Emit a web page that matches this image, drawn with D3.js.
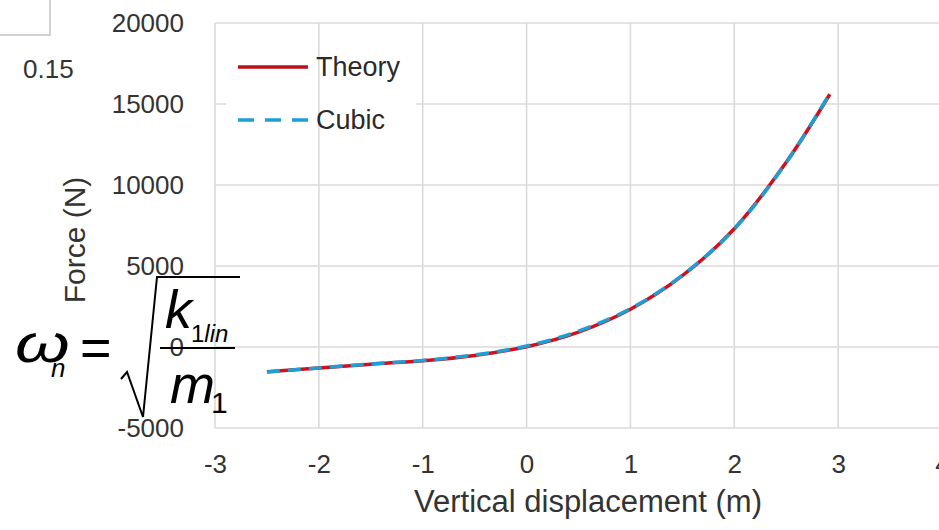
<html>
<head>
  <script src="https://d3js.org/d3.v7.min.js"></script>
  <style>
    body { margin: 0; background: #fff; }
    text { font-family: "Liberation Sans", Arial, Helvetica, sans-serif; }
  </style>
</head>
<body>
<svg id="chart" width="939" height="530"></svg>

<script>
// data
var dispM   = [-2.5, -2, -1.5, -1, -0.5, 0, 0.5, 1, 1.5, 2, 2.5, 2.92]
var theoryN = [-1530, -1300, -1060, -850, -520, 20, 920, 2330, 4400, 7300, 11400, 15600]
var cubicN  = [-1550, -1290, -1050, -830, -490, 60, 980, 2370, 4430, 7280, 11380, 15650]
var xTicks  = [-3, -2, -1, 0, 1, 2, 3, 4]
var yTicks  = [-5000, 0, 5000, 10000, 15000, 20000]
var seriesNames = ['Theory', 'Cubic']

var svg = d3.select('svg#chart')
var x = d3.scaleLinear().domain([-3, 4]).range([215, 942])
var y = d3.scaleLinear().domain([-5000, 20000]).range([428, 23])
var gridColor = '#dadada'
var textColor = '#333'
// plain hyphen for negatives, like the original
var plain = function (d) { return String(d) }

// horizontal grid
svg.append('g').selectAll('line')
  .data(yTicks).enter().append('line')
  .attr('x1', x(-3)).attr('x2', x(4))
  .attr('y1', function (d) { return y(d) })
  .attr('y2', function (d) { return y(d) })
  .attr('stroke', gridColor).attr('stroke-width', 1.6)

// legend background hides the 15000 line behind the labels
svg.append('rect')
  .attr('x', 226).attr('y', 30).attr('width', 190).attr('height', 148)
  .attr('fill', '#fff')

// vertical grid
svg.append('g').selectAll('line')
  .data(xTicks).enter().append('line')
  .attr('x1', function (d) { return x(d) })
  .attr('x2', function (d) { return x(d) })
  .attr('y1', y(20000)).attr('y2', y(-5000))
  .attr('stroke', gridColor).attr('stroke-width', 1.6)

// axes (labels only, domain/ticks hidden)
var yAxis = svg.append('g')
  .attr('transform', 'translate(' + (x(-3) - 28) + ',0)')
  .call(d3.axisLeft(y).tickValues(yTicks).tickSize(0).tickFormat(plain))
yAxis.select('.domain').remove()
yAxis.selectAll('text')
  .attr('font-size', 26).attr('fill', textColor)
  .attr('font-family', '"Liberation Sans", Arial, sans-serif')

var xAxis = svg.append('g')
  .attr('transform', 'translate(0,' + (y(-5000) + 36) + ')')
  .call(d3.axisBottom(x).tickValues(xTicks).tickSize(0).tickFormat(plain))
xAxis.select('.domain').remove()
xAxis.selectAll('text')
  .attr('dy', 0).attr('y', 0)
  .attr('dominant-baseline', 'central')
  .attr('font-size', 26).attr('fill', textColor)
  .attr('font-family', '"Liberation Sans", Arial, sans-serif')

// axis titles
svg.append('text')
  .attr('x', 588).attr('y', 512)
  .attr('text-anchor', 'middle')
  .attr('font-size', 31).attr('fill', textColor)
  .text('Vertical displacement (m)')

svg.append('text')
  .attr('transform', 'translate(85,240) rotate(-90)')
  .attr('text-anchor', 'middle')
  .attr('font-size', 30).attr('fill', textColor)
  .text('Force (N)')

// lines
var rows = dispM.map(function (d, i) { return { x: d, theory: theoryN[i], cubic: cubicN[i] } })
var lineTheory = d3.line().curve(d3.curveCatmullRom.alpha(0.5))
  .x(function (d) { return x(d.x) }).y(function (d) { return y(d.theory) })
var lineCubic = d3.line().curve(d3.curveCatmullRom.alpha(0.5))
  .x(function (d) { return x(d.x) }).y(function (d) { return y(d.cubic) })

svg.append('path').datum(rows)
  .attr('d', lineTheory)
  .attr('fill', 'none').attr('stroke', '#d0101e').attr('stroke-width', 3.5)
svg.append('path').datum(rows)
  .attr('d', lineCubic)
  .attr('fill', 'none').attr('stroke', '#1d9fd6').attr('stroke-width', 3.5)
  .attr('stroke-dasharray', '13,8')

// legend
var legend = svg.append('g').selectAll('g')
  .data(seriesNames).enter().append('g')
  .attr('transform', function (d, i) { return 'translate(238,' + (67 + i * 53) + ')' })
legend.append('line')
  .attr('x1', 0).attr('x2', 70).attr('y1', 0).attr('y2', 0)
  .attr('stroke', function (d, i) { return i === 0 ? '#b8101c' : '#1d9fd6' })
  .attr('stroke-width', 3.5)
  .attr('stroke-dasharray', function (d, i) { return i === 0 ? null : '16,11' })
legend.append('text')
  .attr('x', 78).attr('y', 0)
  .attr('dominant-baseline', 'central')
  .attr('font-size', 27).attr('fill', '#2a2a2a')
  .text(function (d) { return d })

// leftover pieces of the neighbouring figure
svg.append('path')
  .attr('d', 'M50,0 L50,35 L0,35')
  .attr('fill', 'none').attr('stroke', '#c4c4c4').attr('stroke-width', 1.5)
svg.append('text')
  .attr('x', 23).attr('y', 78)
  .attr('font-size', 26).attr('fill', textColor)
  .text('0.15')

// formula overlay: omega_n = sqrt(k_1lin / m_1)
var f = svg.append('g').attr('fill', '#000')
f.append('text')
  .attr('transform', 'translate(15,362) scale(1.3,1)')
  .attr('font-family', '"Liberation Serif", "Times New Roman", serif')
  .attr('font-style', 'italic').attr('font-size', 54)
  .text('ω')
f.append('text')
  .attr('x', 51).attr('y', 377)
  .attr('font-style', 'italic').attr('font-size', 26)
  .text('n')
f.append('text')
  .attr('x', 80).attr('y', 366)
  .attr('font-size', 54)
  .text('=')
f.append('path')
  .attr('d', 'M121,379 L127,372 L143,417 L157,277 L240,277')
  .attr('fill', 'none').attr('stroke', '#000').attr('stroke-width', 2)
f.append('line')
  .attr('x1', 160).attr('x2', 235).attr('y1', 348).attr('y2', 348)
  .attr('stroke', '#000').attr('stroke-width', 2)
f.append('text')
  .attr('x', 165).attr('y', 328)
  .attr('font-style', 'italic').attr('font-size', 54)
  .text('k')
var sub = f.append('text')
  .attr('x', 191).attr('y', 342)
  .attr('font-size', 24)
sub.append('tspan').text('1')
sub.append('tspan').attr('font-style', 'italic').text('lin')
f.append('text')
  .attr('x', 170).attr('y', 403)
  .attr('font-style', 'italic').attr('font-size', 54)
  .text('m')
f.append('text')
  .attr('x', 211).attr('y', 413)
  .attr('font-size', 30)
  .text('1')
</script>
</body>
</html>
